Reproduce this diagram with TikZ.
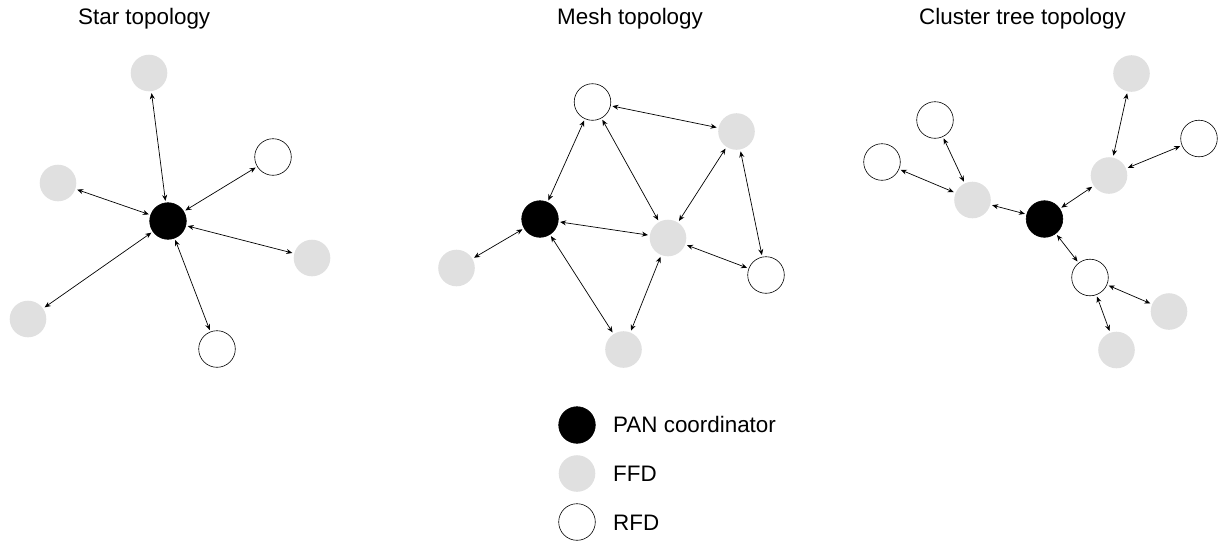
\documentclass[tikz,border=0pt]{standalone}
\usepackage{fontspec}
\setmainfont{Liberation Sans}
\usetikzlibrary{arrows.meta}
\definecolor{ffdgray}{RGB}{224,224,224}
\begin{document}
\begin{tikzpicture}[x=1pt,y=-1pt,
  dev/.style={circle,minimum size=36.6pt,inner sep=0pt,outer sep=2pt},
  pan/.style={dev,fill=black,draw=black,line width=0.6pt},
  ffd/.style={dev,fill=ffdgray},
  rfd/.style={dev,fill=white,draw=black,line width=0.6pt},
  link/.style={{Stealth[length=6pt,width=5pt]}-{Stealth[length=6pt,width=5pt]},line width=0.7pt},
  ttl/.style={anchor=base west,inner sep=0pt,font=\fontsize{22.4}{26}\selectfont},
  lbl/.style={anchor=base west,inner sep=0pt,font=\fontsize{22.4}{26}\selectfont}]
\useasboundingbox (0,0) rectangle (1219,542);
% titles
\node[ttl] (t1) at (78,24) {Star topology};
\node[ttl] (t2) at (557,24) {Mesh topology};
\node[ttl] (t3) at (919,24) {Cluster tree topology};
% star
\node[pan] (sc) at (168,221) {};
\node[ffd] (s1) at (149,73) {};
\node[rfd] (s2) at (273,157) {};
\node[ffd] (s3) at (58,183) {};
\node[ffd] (s4) at (312,258) {};
\node[ffd] (s5) at (28,319) {};
\node[rfd] (s6) at (217,349) {};
\foreach \n in {s1,s2,s3,s4,s5,s6} \draw[link] (sc) -- (\n);
% mesh
\node[pan] (mc) at (540,219) {};
\node[rfd] (m1) at (592.5,102) {};
\node[ffd] (m2) at (736.5,131.5) {};
\node[ffd] (m3) at (668,238) {};
\node[rfd] (m4) at (766,275) {};
\node[ffd] (m5) at (456.5,268) {};
\node[ffd] (m6) at (623.5,349.5) {};
\draw[link] (mc) -- (m1);
\draw[link] (mc) -- (m5);
\draw[link] (mc) -- (m3);
\draw[link] (mc) -- (m6);
\draw[link] (m1) -- (m2);
\draw[link] (m1) -- (m3);
\draw[link] (m2) -- (m3);
\draw[link] (m2) -- (m4);
\draw[link] (m3) -- (m4);
\draw[link] (m3) -- (m6);
% cluster tree
\node[pan] (cc) at (1044.5,219) {};
\node[ffd] (c1) at (1109,175.5) {};
\node[ffd] (c2) at (1131.5,73.5) {};
\node[rfd] (c3) at (1199,138.5) {};
\node[ffd] (c4) at (972.5,200) {};
\node[rfd] (c5) at (935,120) {};
\node[rfd] (c6) at (882,162) {};
\node[rfd] (c7) at (1090,277.5) {};
\node[ffd] (c8) at (1169,311.5) {};
\node[ffd] (c9) at (1116.5,350) {};
\draw[link] (cc) -- (c1);
\draw[link] (c1) -- (c2);
\draw[link] (c1) -- (c3);
\draw[link] (cc) -- (c4);
\draw[link] (c4) -- (c5);
\draw[link] (c4) -- (c6);
\draw[link] (cc) -- (c7);
\draw[link] (c7) -- (c8);
\draw[link] (c7) -- (c9);
% legend
\node[pan] (l1) at (577,425) {};
\node[ffd] (l2) at (577,473.5) {};
\node[rfd] (l3) at (577,522) {};
\node[lbl] (l1t) at (613,432.7) {PAN coordinator};
\node[lbl] (l2t) at (613,481.5) {FFD};
\node[lbl] (l3t) at (613,530) {RFD};
\end{tikzpicture}
\end{document}
